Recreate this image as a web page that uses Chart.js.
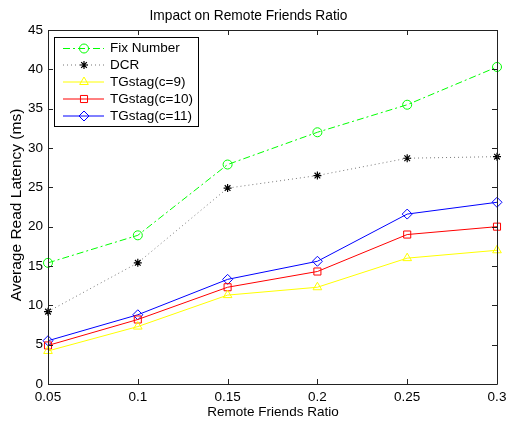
<!DOCTYPE html>
<html>
<head>
<meta charset="utf-8">
<script src="https://cdn.jsdelivr.net/npm/chart.js@4.4.1/dist/chart.umd.min.js"></script>
<style>
  body { margin: 0; background: #fff; }
  #wrap { width: 507px; height: 423px; }
</style>
</head>
<body>
<div id="wrap"><canvas id="chart" width="507" height="423"></canvas></div>
<script>
// values
const ratios = [0.05, 0.1, 0.15, 0.2, 0.25, 0.3];
const xTickLabels = ["0.05", "0.1", "0.15", "0.2", "0.25", "0.3"];
const yTickValues = [0, 5, 10, 15, 20, 25, 30, 35, 40, 45];

const fixNumber = [15.4, 18.9, 27.9, 32.0, 35.5, 40.3];
const dcr = [9.2, 15.4, 24.9, 26.5, 28.7, 28.9];
const tgstag9 = [4.2, 7.3, 11.3, 12.3, 16.0, 17.0];
const tgstag10 = [4.9, 8.2, 12.3, 14.3, 19.0, 20.0];
const tgstag11 = [5.5, 8.8, 13.3, 15.6, 21.6, 23.1];

const seriesNames = ["Fix Number", "DCR", "TGstag(c=9)", "TGstag(c=10)", "TGstag(c=11)"];

const fontFamily = '"Liberation Sans", Arial, Helvetica, sans-serif';
Chart.defaults.font.family = fontFamily;
Chart.defaults.font.size = 13.5;
Chart.defaults.color = "#000";

function toPoints(values) {
  return values.map((v, i) => ({ x: ratios[i], y: v }));
}

const datasets = [
  {
    label: seriesNames[0],
    data: toPoints(fixNumber),
    borderColor: "#00ff00",
    borderDash: [7, 3, 2, 3],
    pointStyle: "circle",
    pointRadius: 4.5,
  },
  {
    label: seriesNames[1],
    data: toPoints(dcr),
    borderColor: "#777",
    pointBorderColor: "#000",
    borderDash: [1, 3],
    pointStyle: "star",
    pointRadius: 4,
    pointBorderWidth: 1.2,
  },
  {
    label: seriesNames[2],
    data: toPoints(tgstag9),
    borderColor: "#ffff00",
    pointStyle: "triangle",
    pointRadius: 5,
  },
  {
    label: seriesNames[3],
    data: toPoints(tgstag10),
    borderColor: "#ff0000",
    pointStyle: "rect",
    pointRadius: 5,
  },
  {
    label: seriesNames[4],
    data: toPoints(tgstag11),
    borderColor: "#0000ff",
    pointStyle: "rectRot",
    pointRadius: 5,
  },
];
datasets.forEach((d) => {
  d.borderWidth = 1;
  d.backgroundColor = "rgba(0,0,0,0)";
  d.pointBackgroundColor = "rgba(0,0,0,0)";
  if (!d.pointBorderColor) d.pointBorderColor = d.borderColor;
  if (!d.pointBorderWidth) d.pointBorderWidth = 1;
  d.tension = 0;
  d.clip = false;
  d.fill = false;
});

// matlab style box, inward ticks, axis titles and legend
const matlabAxes = {
  id: "matlabAxes",
  afterDraw(chart) {
    const { ctx, chartArea: a, scales } = chart;
    const len = 5;
    ctx.save();
    ctx.strokeStyle = "#222";
    ctx.lineWidth = 1;
    ctx.beginPath();
    ctx.rect(Math.round(a.left) + 0.5, Math.round(a.top) + 0.5,
      Math.round(a.right - a.left), Math.round(a.bottom - a.top));
    ctx.stroke();
    ctx.beginPath();
    ratios.forEach((v) => {
      const x = Math.round(scales.x.getPixelForValue(v)) + 0.5;
      ctx.moveTo(x, a.bottom); ctx.lineTo(x, a.bottom - len);
      ctx.moveTo(x, a.top); ctx.lineTo(x, a.top + len);
    });
    yTickValues.forEach((v) => {
      const y = Math.round(scales.y.getPixelForValue(v)) + 0.5;
      ctx.moveTo(a.left, y); ctx.lineTo(a.left + len, y);
      ctx.moveTo(a.right, y); ctx.lineTo(a.right - len, y);
    });
    ctx.stroke();

    // axis titles
    ctx.fillStyle = "#000";
    ctx.textAlign = "center";
    ctx.textBaseline = "middle";
    ctx.font = "13.5px " + fontFamily;
    ctx.fillText("Remote Friends Ratio", 273, 412);
    ctx.save();
    ctx.font = "15.5px " + fontFamily;
    ctx.translate(17, 205);
    ctx.rotate(-Math.PI / 2);
    ctx.fillText("Average Read Latency (ms)", 0, 0);
    ctx.restore();

    // legend
    const lx = 54.5, ly = 37.5, lw = 144, lh = 89;
    ctx.fillStyle = "#fff";
    ctx.fillRect(lx, ly, lw, lh);
    ctx.strokeStyle = "#000";
    ctx.strokeRect(lx, ly, lw, lh);
    const rowY = [48.5, 65, 82, 99, 116];
    ctx.font = "13.5px " + fontFamily;
    chart.data.datasets.forEach((d, i) => {
      const y = rowY[i];
      ctx.save();
      ctx.strokeStyle = d.borderColor;
      ctx.lineWidth = 1;
      ctx.setLineDash(d.borderDash || []);
      ctx.beginPath();
      ctx.moveTo(63, y); ctx.lineTo(104, y);
      ctx.stroke();
      ctx.restore();
      ctx.save();
      ctx.strokeStyle = d.pointBorderColor;
      ctx.fillStyle = "rgba(0,0,0,0)";
      ctx.lineWidth = d.pointBorderWidth;
      Chart.helpers.drawPoint(ctx, { pointStyle: d.pointStyle, radius: d.pointRadius, borderWidth: d.pointBorderWidth }, 84, y);
      ctx.restore();
      ctx.fillStyle = "#000";
      ctx.textAlign = "left";
      ctx.fillText(d.label, 110, y);
    });
    ctx.restore();
  },
};

new Chart(document.getElementById("chart"), {
  type: "line",
  data: { datasets },
  options: {
    responsive: false,
    animation: false,
    layout: { padding: { left: 0, right: 10, top: 0, bottom: 0 } },
    scales: {
      x: {
        type: "linear",
        min: 0.05,
        max: 0.3,
        grid: { display: false, drawTicks: false },
        border: { display: false },
        afterBuildTicks: (s) => { s.ticks = ratios.map((v) => ({ value: v })); },
        ticks: {
          padding: 5,
          maxRotation: 0,
          autoSkip: false,
          callback: (v, i) => xTickLabels[i],
        },
        afterFit: (s) => { s.height = 39; s.paddingRight = 0; s.paddingLeft = 0; },
      },
      y: {
        min: 0,
        max: 45,
        grid: { display: false, drawTicks: false },
        border: { display: false },
        afterBuildTicks: (s) => { s.ticks = yTickValues.map((v) => ({ value: v })); },
        ticks: { padding: 5, autoSkip: false },
        afterFit: (s) => { s.width = 48; },
      },
    },
    plugins: {
      legend: { display: false },
      tooltip: { enabled: false },
      title: {
        display: true,
        text: "Impact on Remote Friends Ratio",
        font: { size: 13.75, weight: "normal" },
        color: "#000",
        padding: { top: 8, bottom: 5.5 },
      },
    },
  },
  plugins: [matlabAxes],
});
</script>
</body>
</html>
